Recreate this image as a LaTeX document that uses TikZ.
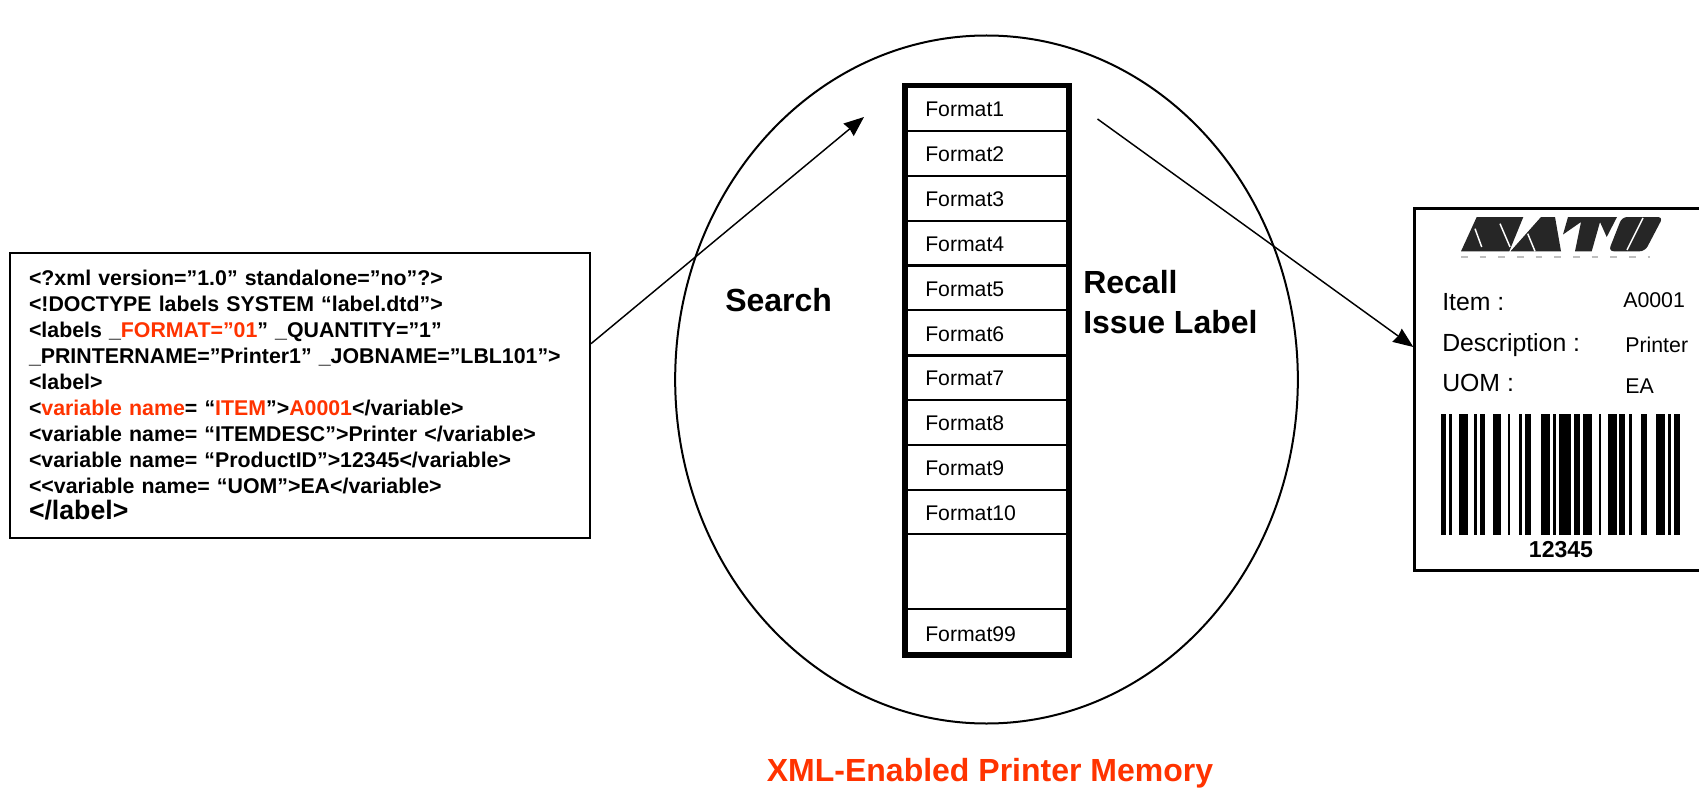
\documentclass[tikz,border=0pt]{standalone}
\usepackage{fontspec}
\setmainfont{Liberation Sans}
\usetikzlibrary{arrows.meta}
\usetikzlibrary{shapes.geometric}
\definecolor{memred}{RGB}{255,51,0}
\definecolor{logogray}{RGB}{38,38,38}

\begin{document}
\begin{tikzpicture}[>={Stealth[length=15pt,width=12pt,inset=1pt]},x=0.75pt,y=-0.75pt,
    xmlbox/.style={draw,line width=1.5pt,minimum width=435pt,minimum height=213.75pt,
      inner sep=0pt,align=left,text width=406.5pt,font=\bfseries\fontsize{16}{19.5}\selectfont},
    stackbox/.style={draw,line width=4pt,minimum width=123pt,minimum height=427pt,inner sep=0pt},
    labelbox/.style={draw,line width=2pt,minimum width=218pt,minimum height=271pt,inner sep=0pt},
    fmttext/.style={anchor=west,inner sep=0pt,font=\fontsize{15.9}{18}\selectfont},
    headtext/.style={anchor=west,inner sep=0pt,align=left,font=\bfseries\fontsize{24}{30}\selectfont},
    itemtext/.style={anchor=west,inner sep=0pt,font=\fontsize{18.6}{20}\selectfont},
    valtext/.style={anchor=west,inner sep=0pt,font=\fontsize{16}{18}\selectfont}]
          \useasboundingbox (0,0) rectangle (1699,788);

          \node[xmlbox] (xml) at (300,395) {%
            <?xml version=”1.0” standalone=”no”?>\\
            <!DOCTYPE labels SYSTEM “label.dtd”>\\
            <labels \_{\color{memred}FORMAT=”01}” \_QUANTITY=”1”\\
            \_PRINTERNAME=”Printer1” \_JOBNAME=”LBL101”>\\
            <label>\\
            <{\color{memred}variable name}= “{\color{memred}ITEM}”>{\color{memred}A0001}</variable>\\
            <variable name= “ITEMDESC”>Printer </variable>\\
            <variable name= “ProductID”>12345</variable>\\
            <{}<variable name= “UOM”>EA</variable>\\
            {\fontsize{20}{22}\selectfont </label>}};

          \node[draw,ellipse,line width=1.5pt,minimum width=467pt,minimum height=516pt,inner sep=0pt]
            (memory) at (986.5,379.5) {};
          \node[stackbox] (stack) at (987,370.3) {};

          % rows of the format list
          \foreach \y in {131,176,221,265.5,310,355.5,400,445,490,534,609}
            \draw[line width=1.9pt] (stack.west |- 0,\y) -- (stack.east |- 0,\y);
          \foreach \n/\y in {1/109.5,2/154.5,3/199.5,4/244.5,5/289.5,6/334.5,7/378.5,8/423.5,9/468.5,10/513.5,99/634}
            \node[fmttext] (fmt\n) at (925,\y) {Format\n};

          \node[headtext] (search) at (725,300) {Search};
          \node[headtext] (recall) at (1083,302) {Recall\\Issue Label};
          \node[inner sep=0pt,text=memred,font=\bfseries\fontsize{24}{26}\selectfont] (title) at (990,773)
            {XML-Enabled Printer Memory};

          \node[labelbox] (label) at (1560,389.5) {};
          \fill[logogray] (1461,251.3) -- (1476.7,217) -- (1523.3,217) -- (1509.3,251.3) -- cycle;
          \fill[logogray] (1510.5,251.3) -- (1541,217) -- (1555,217) -- (1561,251.3) -- cycle;
          \fill[logogray] (1563,234.5) -- (1568,217) -- (1617,217) -- (1606.7,237) -- (1600,222)
            -- (1591.7,251.3) -- (1575,251.3) -- (1581,222) -- cycle;
          \fill[logogray,rounded corners=4pt] (1608.5,251.3) -- (1622,217) -- (1663,217) -- (1645,251.3) -- cycle;
          \draw[white,line width=1.1pt] (1475,228.7) -- (1481.7,247) (1500,223.7) -- (1510,247)
            (1527.7,233.7) -- (1535,251.3) (1643,218) -- (1627,250);
          \draw[gray!50,line width=0.8pt,dash pattern=on 5pt off 9pt] (1461,257) -- (1650,257);

          \node[itemtext] (item) at (1442,302) {Item :};
          \node[itemtext] (desc) at (1442,345) {Description :};
          \node[itemtext] (uom) at (1442,383) {UOM :};
          \node[valtext] (itemval) at (1623,300) {A0001};
          \node[valtext] (descval) at (1625,345) {Printer};
          \node[valtext] (uomval) at (1625,386) {EA};

          % bars of the code, left edge and width
          \foreach \x/\w in {1440.7/5.3,1449.3/3,1458.7/9.3,1474.3/2.7,1480/5.3,1492.7/8.7,1507.7/2.7,
              1519.3/2.7,1525.3/5.7,1541/9,1552.7/3,1558.7/12.3,1574/6,1583.3/9,1598.7/2.7,1607.7/9,
              1619.3/6,1628.7/3,1641/5.7,1656/9,1668/2.7,1674.3/5.7}
            \fill (\x,414) rectangle +(\w,121);
          \node[inner sep=0pt,font=\bfseries\fontsize{17.3}{20}\selectfont] (code) at (1561,550) {12345};

          \coordinate (searchend) at (864,117);
          \coordinate (recallstart) at (1097.5,119);
          \coordinate (recallend) at (label.west |- 0,347);

          \draw[->,line width=1.1pt] (xml.10) -- (searchend);
          \draw[->,line width=1.1pt] (recallstart) -- (recallend);
        \end{tikzpicture}
\end{document}
